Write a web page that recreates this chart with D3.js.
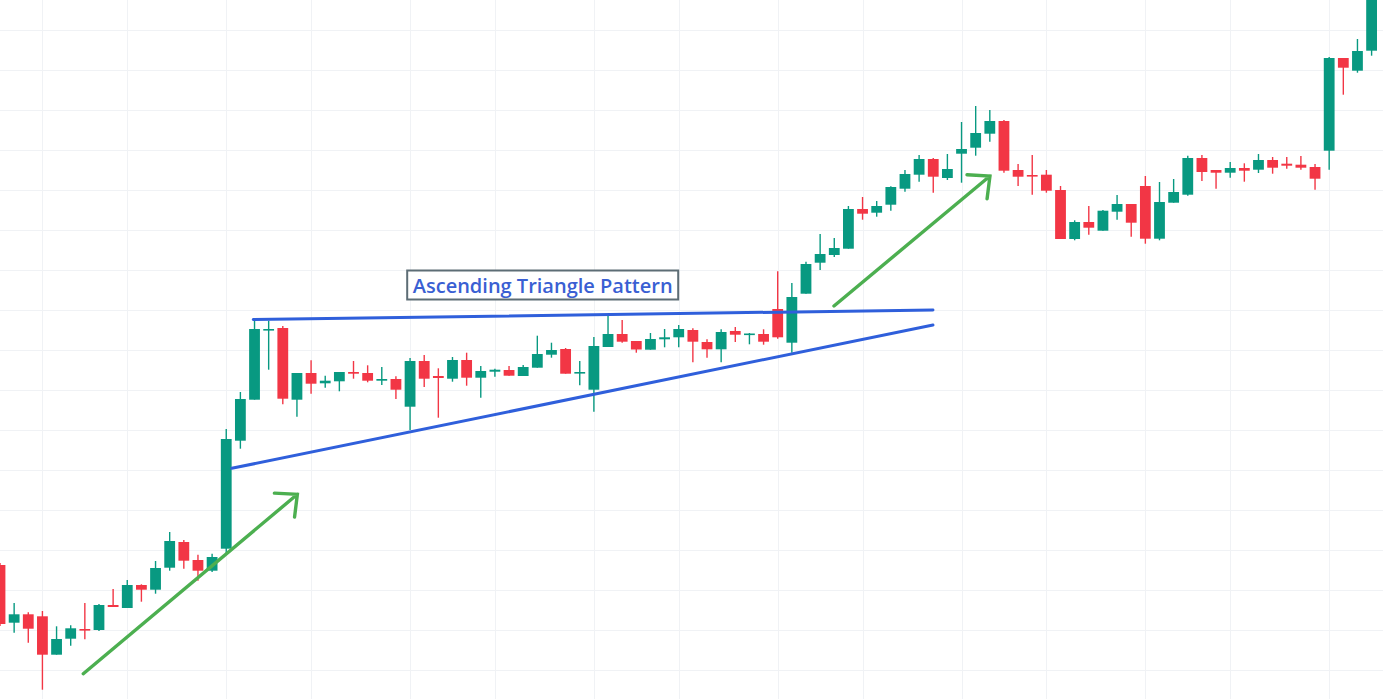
<!DOCTYPE html>
<html>
<head>
<meta charset="utf-8">
<script src="https://cdn.jsdelivr.net/npm/d3@7"></script>
<style>
html,body{margin:0;padding:0;background:#fff;overflow:hidden;}
svg{display:block;}
</style>
</head>
<body>
<svg id="chart" width="1383" height="699"></svg>
<script>
// ---- Data (prices) ----
const openP  = [145,87.3,95.7,93.7,55.3,71.3,81,80,105,102,125,120.3,142.3,168,150,139.3,161.3,269.3,310.3,380,382,310.3,337,326.7,328.7,338,337,329.3,331,303.3,349,334,331.3,350,332.3,338.3,340,334,342.3,355.3,361,336.5,320.3,363,376,369,360.3,370.7,372.7,380,368,360.7,379,375.5,376,401,367.3,416.3,447.3,455,461.3,501,497.3,505.3,521.3,535.3,551,532,556.3,562.3,576.3,589,540,535,535.3,520,471,488,479.3,498.3,506,524,471.3,507.3,515.3,552,540,537.3,542,540.3,550,546.3,545.3,543,559.3,652,639.3,659.3];
const highP  = [147,107,97.7,99,83.7,84.7,107,106,121,130,125.7,149,178,170,155.3,156.3,281,318,390,389.3,384,337,349.7,334.3,338,349,344.7,343,333.7,352,355,341.7,353,357.3,344,341.3,344,345,374.3,367.3,362,349,373,394.3,390,369,377,381,385,381.7,370.7,380.7,383,377,380.7,438.7,427,448.3,476,472,504,513,509,523.7,540,555,552,556,588,604,600,590,546,555,540,524,489.7,504,500,515,506,534,528,531,554.3,555,540,548,546.7,556,553,553,554,546,653,652,671,725];
const lowP   = [84,77.3,67.3,20.3,55.3,64.3,70.7,79,103,102,108.3,116.3,139.3,141.3,129.3,138,157,261.3,310.3,340.3,305.7,293.3,316.3,322.3,318.7,331.3,327.7,325,311,280,323,292.3,328.3,324.3,312.3,333.3,334.3,334,342.3,352.3,336.3,324.7,298.3,363,367.3,357.3,360.3,362.7,362.7,347.7,352.3,347.7,368,365.7,365.3,371.3,357.3,416.3,440,453,461.3,490.3,493.3,499.3,518.3,528.3,517.3,530,527.3,554.3,568.3,537.3,524,515.3,517.3,471,469.7,475.3,479.3,490.3,473.3,466.3,469.7,507.3,514.3,529,521.3,532.3,528.3,537,536.3,541.3,540.3,520.3,540.3,615.3,637.3,654.3];
const closeP = [86,95.7,81.3,55.3,71,81.7,80,105,103,125,120.3,142,169,149.3,139.3,153,271,311,381,381,311.3,337,326.3,329.3,338,336.3,329.3,331,320.3,349,331.3,332,350,332.3,339,340.3,334.3,343,356,360,336.3,338,364,376,368.3,360.5,371,372.7,381,368.3,360.7,378,375.3,376.5,368.3,372.7,413,446,456,462,501,496.3,504,523,536,551,533.3,541,561,577,589,539.3,533.3,534,519.3,471,488,482.3,499.3,506,487.3,471.3,508,518,552,538,537.3,542,539.3,550,542.3,544.3,542.3,531.3,652,642.3,659,720];

// grid tick positions (candle index / price)
const xGridIdx   = [3,9,16,22,29,35,42,48,55,61,68,74,81,87,94];
const yGridPrice = [40,80,120,160,200,240,280,320,360,400,440,480,520,560,600,640,680];

// annotations in data coordinates [index, price]
const resistance = [[17.91,390.5],[65.98,400]];
const support    = [[16.39,241.7],[65.98,385]];
const arrows     = [
  {from:[5.89,36.3], to:[21.03,215.7]},
  {from:[58.98,404], to:[70.01,534]}
];
const labelText = "Ascending Triangle Pattern";
const labelPos  = [38.38,425];

// ---- Drawing ----
const W = 1383, H = 699;
const svg = d3.select("#chart");
const x = d3.scaleLinear().domain([0,97]).range([0,1371.6]);
const y = d3.scaleLinear().domain([0,700]).range([710,10]);

const candles = openP.map((o,i)=>({i,o,h:highP[i],l:lowP[i],c:closeP[i]}));
const UP="#089981", DN="#f23645";

// grid
const grid = svg.append("g");
grid.selectAll("line.v").data(xGridIdx).join("line")
  .attr("x1",d=>Math.round(x(d))+0.5).attr("x2",d=>Math.round(x(d))+0.5)
  .attr("y1",0).attr("y2",H).attr("stroke","#f0f2f5").attr("stroke-width",1);
grid.selectAll("line.h").data(yGridPrice).join("line")
  .attr("y1",d=>Math.round(y(d))+0.5).attr("y2",d=>Math.round(y(d))+0.5)
  .attr("x1",0).attr("x2",W).attr("stroke","#f0f2f5").attr("stroke-width",1);

// candles
const bw = 10.8;
const cg = svg.append("g");
cg.selectAll("line.wick").data(candles).join("line")
  .attr("x1",d=>x(d.i)).attr("x2",d=>x(d.i))
  .attr("y1",d=>y(d.h)).attr("y2",d=>y(d.l))
  .attr("stroke",d=>d.c>=d.o?UP:DN).attr("stroke-width",1.4);
cg.selectAll("rect.body").data(candles).join("rect")
  .attr("x",d=>x(d.i)-bw/2).attr("width",bw)
  .attr("y",d=>y(Math.max(d.o,d.c)))
  .attr("height",d=>Math.max(1.6, Math.abs(y(d.o)-y(d.c))))
  .attr("fill",d=>d.c>=d.o?UP:DN);

// trend lines
const line = d3.line().x(d=>x(d[0])).y(d=>y(d[1]));
[resistance,support].forEach(pts=>{
  svg.append("path").attr("d",line(pts)).attr("fill","none")
    .attr("stroke","#2f5fdb").attr("stroke-width",3).attr("stroke-linecap","round");
});

// arrows
const AG="#4caf50";
arrows.forEach(a=>{
  const x1=x(a.from[0]), y1=y(a.from[1]), x2=x(a.to[0]), y2=y(a.to[1]);
  const ang=Math.atan2(y2-y1,x2-x1)+Math.PI;
  const L=23, s=43*Math.PI/180;
  const b1=[x2+L*Math.cos(ang+s), y2+L*Math.sin(ang+s)];
  const b2=[x2+L*Math.cos(ang-s), y2+L*Math.sin(ang-s)];
  svg.append("path")
    .attr("d",`M${x1},${y1}L${x2},${y2}M${b1[0]},${b1[1]}L${x2},${y2}L${b2[0]},${b2[1]}`)
    .attr("fill","none").attr("stroke",AG).attr("stroke-width",3.4)
    .attr("stroke-linecap","round").attr("stroke-linejoin","miter");
});

// label
const lg = svg.append("g");
const rect = lg.append("rect");
const txt = lg.append("text").attr("x",x(labelPos[0])).attr("y",y(labelPos[1])+0.5)
  .attr("text-anchor","middle").attr("dominant-baseline","central")
  .attr("font-family","'Open Sans', 'Noto Sans', sans-serif").attr("font-weight",600)
  .attr("font-size",20).attr("fill","#3a5fd3").text(labelText);
rect.attr("x",x(labelPos[0])-135.5).attr("y",y(labelPos[1])-14.5)
  .attr("width",271).attr("height",29)
  .attr("fill","#fff").attr("stroke","#5d6d75").attr("stroke-width",2);
</script>
</body>
</html>
